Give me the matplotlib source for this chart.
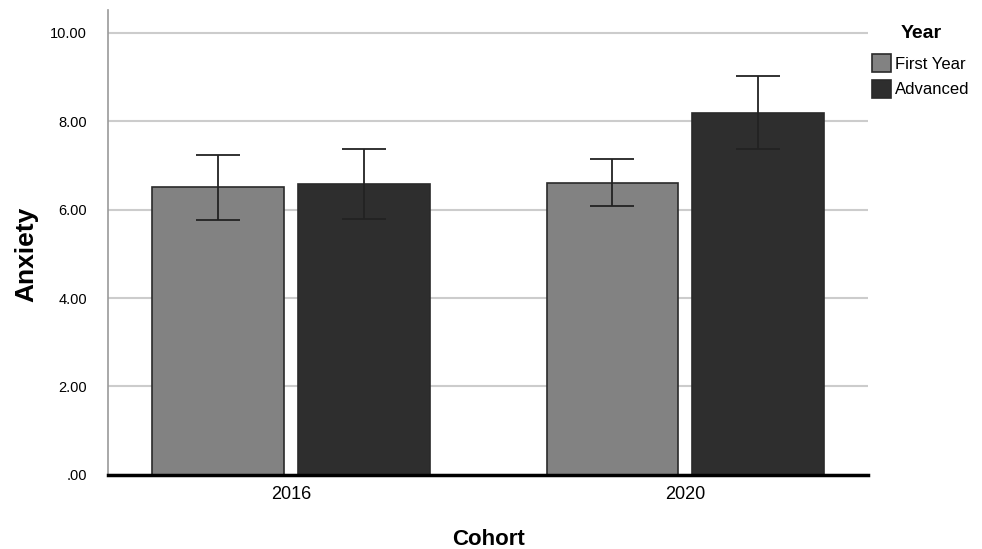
import matplotlib.pyplot as plt
import numpy as np

# data
cohorts = ["2016", "2020"]
years = ["First Year", "Advanced"]
means_first = [6.52, 6.61]
means_adv = [6.58, 8.19]
err_low_first = [5.77, 6.09]
err_high_first = [7.24, 7.15]
err_low_adv = [5.79, 7.38]
err_high_adv = [7.38, 9.03]

y_ticks = [0, 2, 4, 6, 8, 10]
y_tick_labels = [".00", "2.00", "4.00", "6.00", "8.00", "10.00"]

plt.rcParams['font.family'] = ['Liberation Sans', 'DejaVu Sans']

fig = plt.figure(figsize=(9.82, 5.49), dpi=100)
ax = fig.add_axes([0.110, 0.135, 0.774, 0.847])

x = np.arange(len(cohorts))
w = 0.333
off = 0.185

series = [
    (means_first, err_low_first, err_high_first, "#828282", -off),
    (means_adv, err_low_adv, err_high_adv, "#2e2e2e", off),
]
for (vals, lo, hi, col, dx), name in zip(series, years):
    vals = np.array(vals)
    yerr = [vals - np.array(lo), np.array(hi) - vals]
    ax.bar(x + dx, vals, width=w, color=col, edgecolor="#2a2a2a",
           linewidth=1.2, label=name, zorder=2)
    ax.errorbar(x + dx, vals, yerr=yerr, fmt="none", ecolor="#222222",
                elinewidth=1.3, capsize=16, capthick=1.3, zorder=3)

ax.set_xlim(-0.464, 1.464)
ax.set_ylim(0, 10.52)
ax.set_yticks(y_ticks)
ax.set_yticklabels(y_tick_labels, fontsize=10.5)
ax.set_xticks(x)
ax.set_xticklabels(cohorts, fontsize=13)
ax.tick_params(axis="y", length=0, pad=15)
ax.tick_params(axis="x", length=0, pad=8)

ax.yaxis.grid(True, color="#cccccc", linewidth=1.5, zorder=0)
ax.set_axisbelow(True)
for s in ["top", "right"]:
    ax.spines[s].set_visible(False)
ax.spines["left"].set_color("#999999")
ax.spines["left"].set_linewidth(1.2)
ax.spines["bottom"].set_color("black")
ax.spines["bottom"].set_linewidth(2.5)
ax.spines["bottom"].set_zorder(4)

ax.set_ylabel("Anxiety", fontsize=19, fontweight="bold")
ax.yaxis.set_label_coords(-0.092, 0.475)
ax.set_xlabel("Cohort", fontsize=16, fontweight="bold")
ax.xaxis.set_label_coords(0.5, -0.116)

leg = ax.legend(loc="upper left", bbox_to_anchor=(0.992, 0.99), frameon=False,
                title="Year", fontsize=12, handlelength=1.15, handleheight=1.3,
                handletextpad=0.25, labelspacing=0.45, borderaxespad=0.2)
leg.get_title().set_fontweight("bold")
leg.get_title().set_fontsize(14)
leg._legend_box.sep = 9

fig.savefig("out.png", dpi=100)
